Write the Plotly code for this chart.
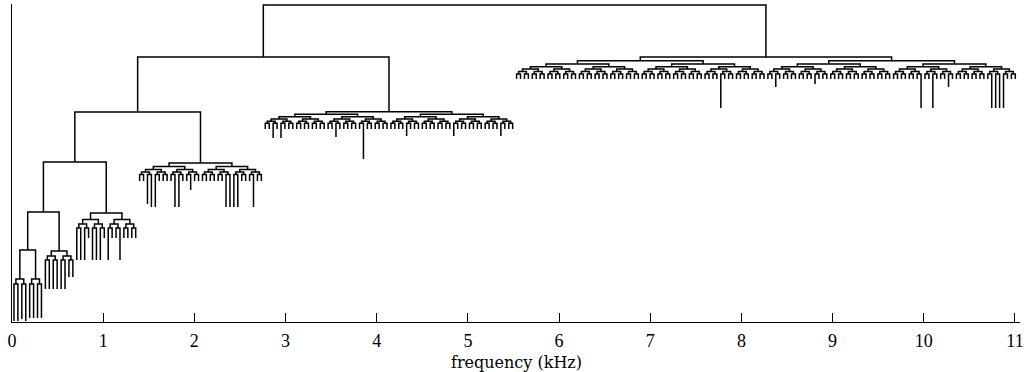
import plotly.graph_objects as go

# ---------------- data ----------------
# frequency band edges (kHz) of the octave sub-trees
band_edges = [0.0, 0.1723, 0.3445, 0.6891, 1.3781, 2.7563, 5.5125, 11.025]
# number of leaves (frequency bins) inside each band
band_leaf_counts = [4, 4, 8, 16, 32, 64, 128]
# merge heights inside each band, from band root down to leaf pairs
band_level_heights = [
    [43, 38],
    [43, 38],
    [71, 66, 62],
    [109, 102.5, 98, 94],
    [159, 155.5, 152.5, 150, 147.5],
    [210.3, 207.7, 205.3, 203, 200.7, 198.7],
    [265, 261.3, 258, 255.3, 253, 250.5, 248],
]
# default leaf end height for each band
band_leaf_default = [1, 4, 33, 84, 141, 193, 243]
# leaves that hang further down (band index -> {leaf index: end height})
band_leaf_overrides = [
    {2: 3},
    {},
    {6: 45, 7: 45},
    {0: 62, 1: 62, 2: 62, 4: 62, 5: 62, 6: 62, 8: 62, 11: 62},
    {2: 118, 3: 115, 4: 115, 9: 115, 10: 115, 13: 132, 22: 115, 23: 115,
     24: 115, 25: 115, 29: 115},
    {2: 184, 4: 184, 18: 185, 25: 163, 36: 186, 48: 186, 60: 186},
    {52: 214, 66: 235, 76: 238, 103: 214, 106: 214, 110: 235,
     121: 214, 122: 214, 123: 214, 124: 214},
]
# heights of the nodes joining the low-frequency part with the next band
spine_heights = [72, 110, 160, 210, 265, 317]

x_ticks = list(range(0, 12))
x_tick_labels = [str(v) for v in x_ticks]
x_title = "frequency (kHz)"

# ---------------- build dendrogram segments ----------------
seg_x, seg_y = [], []


def add_link(lx, lh, rx, rh, h):
    seg_x.extend([lx, lx, rx, rx, None])
    seg_y.extend([lh, h, h, rh, None])


def subtree(xs, bottoms, levels, depth):
    if len(xs) == 1:
        return xs[0], bottoms[0]
    mid = len(xs) // 2
    lx, lh = subtree(xs[:mid], bottoms[:mid], levels, depth + 1)
    rx, rh = subtree(xs[mid:], bottoms[mid:], levels, depth + 1)
    h = levels[depth]
    add_link(lx, lh, rx, rh, h)
    return (lx + rx) / 2, h


roots = []
for b, n in enumerate(band_leaf_counts):
    lo, hi = band_edges[b], band_edges[b + 1]
    w = (hi - lo) / n
    xs = [lo + (i + 0.5) * w for i in range(n)]
    bottoms = [band_leaf_overrides[b].get(i, band_leaf_default[b]) for i in range(n)]
    roots.append(subtree(xs, bottoms, band_level_heights[b], 0))

cx, ch = roots[0]
for k in range(1, len(roots)):
    rx, rh = roots[k]
    h = spine_heights[k - 1]
    add_link(cx, ch, rx, rh, h)
    cx, ch = (cx + rx) / 2, h

fig = go.Figure()
fig.add_trace(go.Scatter(x=seg_x, y=seg_y, mode="lines",
                         line=dict(color="black", width=1.5),
                         hoverinfo="skip", showlegend=False))

tick_font = "Liberation Serif"
title_font = "DejaVu Serif"
fig.update_layout(
    width=1027, height=372,
    margin=dict(l=12, r=7, t=4, b=50),
    paper_bgcolor="white", plot_bgcolor="white",
    font=dict(family=tick_font, size=18, color="black"),
    xaxis=dict(range=[0, 11.055], showline=True, linecolor="black", linewidth=1,
               ticks="inside", ticklen=9, tickcolor="black", tickwidth=1,
               tickvals=x_ticks, ticktext=x_tick_labels,
               tickfont=dict(family=tick_font, size=18, color="black"),
               showgrid=False, zeroline=False, ticklabelstandoff=2),
    yaxis=dict(range=[0, 318], showline=True, linecolor="black", linewidth=1,
               showticklabels=False, ticks="", showgrid=False, zeroline=False),
    annotations=[dict(text=x_title, xref="paper", yref="paper",
                      x=0.5, y=-0.126, xanchor="center", yanchor="middle",
                      showarrow=False,
                      font=dict(family=title_font, size=16, color="black"))],
)

fig.write_html("out.html")
